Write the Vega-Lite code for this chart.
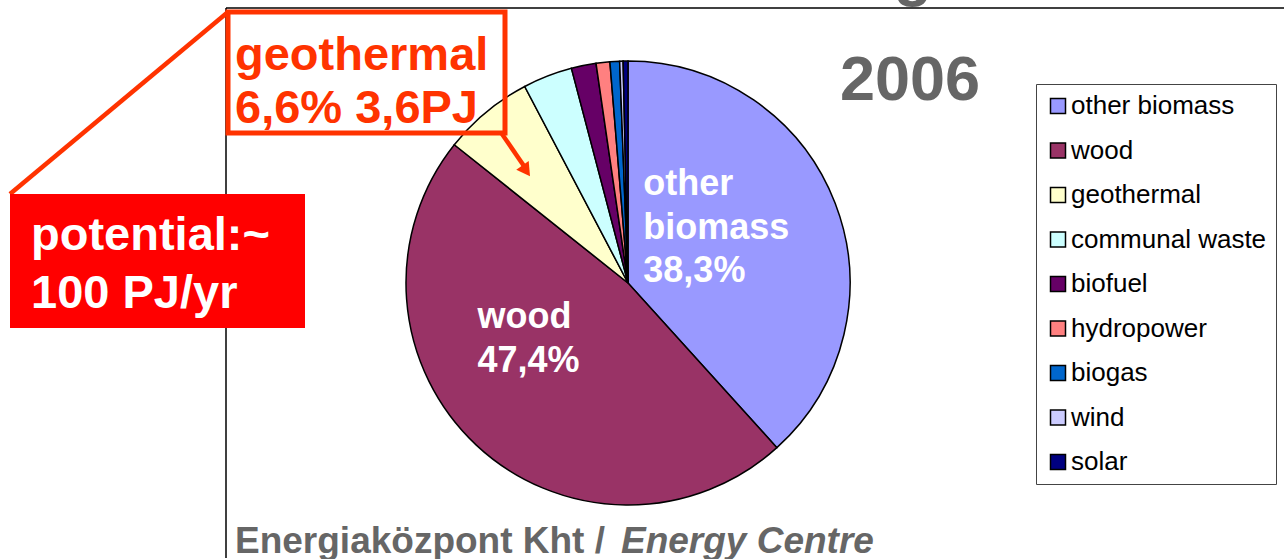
{
  "$schema": "https://vega.github.io/schema/vega-lite/v6.json",
  "width": 1285,
  "height": 559,
  "autosize": {"type": "fit", "contains": "padding"},
  "padding": 0,
  "background": "white",
  "config": {"view": {"stroke": null}, "font": "Liberation Sans"},
  "data": {
    "values": [
      {"cat": "other biomass", "v": 38.3, "i": 0, "label": "other\nbiomass\n38,3%"},
      {"cat": "wood", "v": 47.4, "i": 1, "label": "wood\n47,4%"},
      {"cat": "geothermal", "v": 6.6, "i": 2, "label": ""},
      {"cat": "communal waste", "v": 3.6, "i": 3, "label": ""},
      {"cat": "biofuel", "v": 1.8, "i": 4, "label": ""},
      {"cat": "hydropower", "v": 1.0, "i": 5, "label": ""},
      {"cat": "biogas", "v": 0.7, "i": 6, "label": ""},
      {"cat": "wind", "v": 0.25, "i": 7, "label": ""},
      {"cat": "solar", "v": 0.35, "i": 8, "label": ""}
    ]
  },
  "layer": [
    {
      "data": {"values": [{}]},
      "mark": {"type": "rule", "color": "black", "strokeWidth": 1.5},
      "encoding": {"x": {"value": 226}, "y": {"value": 8}, "x2": {"value": 1284}, "y2": {"value": 8}}
    },
    {
      "data": {"values": [{}]},
      "mark": {"type": "rule", "color": "black", "strokeWidth": 1.5},
      "encoding": {"x": {"value": 226}, "y": {"value": 8}, "x2": {"value": 226}, "y2": {"value": 558}}
    },
    {
      "data": {"values": [{}]},
      "mark": {"type": "text", "text": "g", "clip": true, "align": "center", "baseline": "alphabetic", "fontSize": 63, "fontWeight": "bold", "color": "#666666"},
      "encoding": {"x": {"value": 913}, "y": {"value": -6}}
    },
    {
      "mark": {"type": "arc", "radius": 222, "stroke": "black", "strokeWidth": 1.5},
      "encoding": {
        "theta": {"field": "v", "type": "quantitative", "stack": true},
        "order": {"field": "i", "type": "quantitative"},
        "x": {"value": 628},
        "y": {"value": 283},
        "color": {
          "field": "cat",
          "type": "nominal",
          "scale": {
            "domain": ["other biomass", "wood", "geothermal", "communal waste", "biofuel", "hydropower", "biogas", "wind", "solar"],
            "range": ["#9999FF", "#993366", "#FFFFCC", "#CCFFFF", "#660066", "#FF8080", "#0066CC", "#CCCCFF", "#000080"]
          },
          "legend": {
            "orient": "none",
            "legendX": 1036,
            "legendY": 84,
            "title": null,
            "symbolType": "square",
            "symbolSize": 225,
            "symbolStrokeColor": "black",
            "symbolStrokeWidth": 1.5,
            "labelFontSize": 26,
            "labelFont": "Liberation Sans",
            "labelColor": "black",
            "labelOffset": 0,
            "labelLimit": 0,
            "rowPadding": 18.5,
            "padding": 9,
            "strokeColor": "#444444",
            "fillColor": "white"
          }
        }
      }
    },
    {
      "mark": {"type": "text", "radius": 100, "align": "left", "baseline": "alphabetic", "dx": -78, "dy": -52, "fontSize": 36, "fontWeight": "bold", "color": "white", "lineBreak": "\n", "lineHeight": 43.5},
      "encoding": {
        "theta": {"field": "v", "type": "quantitative", "stack": true},
        "order": {"field": "i", "type": "quantitative"},
        "detail": {"field": "cat"},
        "x": {"value": 628},
        "y": {"value": 283},
        "text": {"condition": {"test": "datum.cat === 'other biomass'", "field": "label"}, "value": ""}
      }
    },
    {
      "mark": {"type": "text", "radius": 100, "align": "left", "baseline": "alphabetic", "dx": -82, "dy": -28, "fontSize": 36, "fontWeight": "bold", "color": "white", "lineBreak": "\n", "lineHeight": 44},
      "encoding": {
        "theta": {"field": "v", "type": "quantitative", "stack": true},
        "order": {"field": "i", "type": "quantitative"},
        "detail": {"field": "cat"},
        "x": {"value": 628},
        "y": {"value": 283},
        "text": {"condition": {"test": "datum.cat === 'wood'", "field": "label"}, "value": ""}
      }
    },
    {
      "data": {"values": [{}]},
      "mark": {"type": "text", "text": "2006", "align": "center", "baseline": "alphabetic", "fontSize": 63, "fontWeight": "bold", "color": "#666666"},
      "encoding": {"x": {"value": 910}, "y": {"value": 100}}
    },
    {
      "data": {"values": [{}]},
      "mark": {"type": "rule", "color": "#FF3300", "strokeWidth": 4.5},
      "encoding": {"x": {"value": 228}, "y": {"value": 12}, "x2": {"value": 10}, "y2": {"value": 194}}
    },
    {
      "data": {"values": [{}]},
      "mark": {"type": "rect", "color": "#FF0000"},
      "encoding": {"x": {"value": 10}, "y": {"value": 194}, "x2": {"value": 305}, "y2": {"value": 328}}
    },
    {
      "data": {"values": [{}]},
      "mark": {"type": "text", "text": "potential:~\n100 PJ/yr", "lineBreak": "\n", "lineHeight": 58, "align": "left", "baseline": "alphabetic", "fontSize": 47, "fontWeight": "bold", "color": "white"},
      "encoding": {"x": {"value": 31}, "y": {"value": 250}}
    },
    {
      "data": {"values": [{}]},
      "mark": {"type": "rect", "filled": false, "stroke": "#FF3300", "strokeWidth": 5},
      "encoding": {"x": {"value": 228}, "y": {"value": 12}, "x2": {"value": 505}, "y2": {"value": 133}}
    },
    {
      "data": {"values": [{}]},
      "mark": {"type": "text", "text": "geothermal\n6,6% 3,6PJ", "lineBreak": "\n", "lineHeight": 53, "align": "left", "baseline": "alphabetic", "fontSize": 47, "fontWeight": "bold", "color": "#FF3300"},
      "encoding": {"x": {"value": 235}, "y": {"value": 70}}
    },
    {
      "data": {"values": [{}]},
      "mark": {"type": "rule", "color": "#FF3300", "strokeWidth": 4.5},
      "encoding": {"x": {"value": 502}, "y": {"value": 134}, "x2": {"value": 524}, "y2": {"value": 166}}
    },
    {
      "data": {"values": [{}]},
      "mark": {"type": "point", "shape": "triangle", "angle": 145, "size": 230, "filled": true, "opacity": 1, "color": "#FF3300"},
      "encoding": {"x": {"value": 525}, "y": {"value": 169}}
    },
    {
      "data": {"values": [{}]},
      "mark": {"type": "text", "text": "Energiaközpont Kht / ", "align": "left", "baseline": "alphabetic", "fontSize": 37, "fontWeight": "bold", "color": "#666666"},
      "encoding": {"x": {"value": 235}, "y": {"value": 553}}
    },
    {
      "data": {"values": [{}]},
      "mark": {"type": "text", "text": "Energy Centre", "align": "left", "baseline": "alphabetic", "fontSize": 37, "fontWeight": "bold", "fontStyle": "italic", "color": "#666666"},
      "encoding": {"x": {"value": 621}, "y": {"value": 553}}
    }
  ]
}
